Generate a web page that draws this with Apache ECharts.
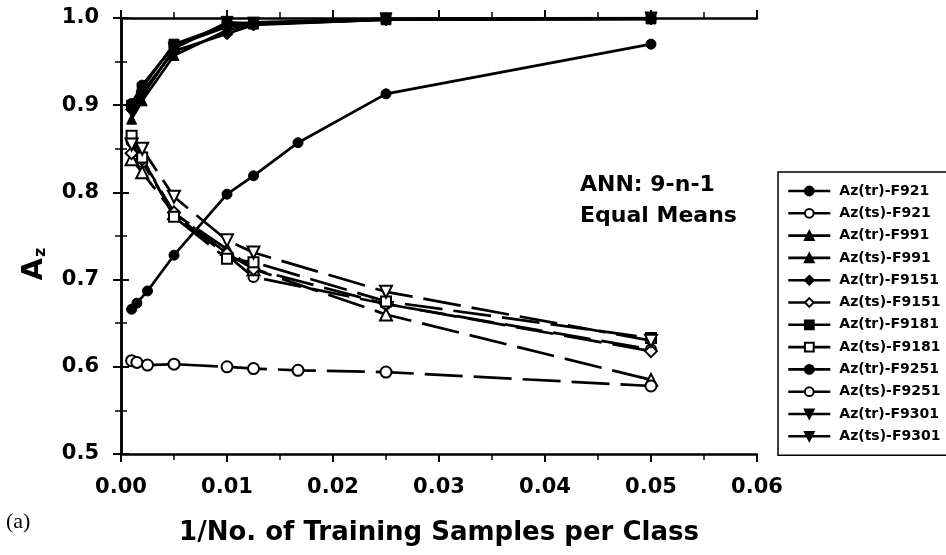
<!DOCTYPE html>
<html><head><meta charset="utf-8">
<script src="https://cdn.jsdelivr.net/npm/echarts@6/dist/echarts.min.js"></script>
<style>html,body{margin:0;padding:0;background:#fff}#c{width:946px;height:555px}</style>
</head><body><div id="c"></div>
<script>
// x values (1/No. of training samples per class)
const xMain  = [0.001, 0.002, 0.005, 0.01, 0.0125, 0.025, 0.05];
const xF9251 = [0.001, 0.0015, 0.0025, 0.005, 0.01, 0.0125, 0.0167, 0.025, 0.05];
// Az values
const trF921  = [0.902, 0.923, 0.968, 0.990, 0.993, 0.998, 0.999];
const tsF921  = [0.858, 0.835, 0.775, 0.728, 0.703, 0.672, 0.620];
const trF991  = [0.884, 0.905, 0.957, 0.986, 0.993, 0.998, 0.999];
const tsF991  = [0.838, 0.823, 0.776, 0.735, 0.712, 0.660, 0.585];
const trF9151 = [0.895, 0.915, 0.962, 0.982, 0.992, 0.998, 0.999];
const tsF9151 = [0.845, 0.838, 0.777, 0.730, 0.712, 0.672, 0.618];
const trF9181 = [0.900, 0.920, 0.970, 0.992, 0.995, 0.999, 1.000];
const tsF9181 = [0.865, 0.840, 0.772, 0.724, 0.720, 0.675, 0.633];
const trF9251 = [0.666, 0.673, 0.687, 0.728, 0.798, 0.819, 0.857, 0.913, 0.970];
const tsF9251 = [0.607, 0.605, 0.602, 0.603, 0.600, 0.598, 0.596, 0.594, 0.578];
const trF9301 = [0.893, 0.910, 0.965, 0.995, 0.994, 0.999, 1.000];
const tsF9301 = [0.855, 0.850, 0.795, 0.745, 0.731, 0.686, 0.630];
const seriesNames = ['Az(tr)-F921','Az(ts)-F921','Az(tr)-F991','Az(ts)-F991','Az(tr)-F9151','Az(ts)-F9151',
  'Az(tr)-F9181','Az(ts)-F9181','Az(tr)-F9251','Az(ts)-F9251','Az(tr)-F9301','Az(ts)-F9301'];

const FONT = 'DejaVu Sans';
const DOWN = 'path://M0,0 L10,0 L5,9 Z';
function pairs(xs, ys){ return xs.map((x,i)=>[x, ys[i]]); }
function mk(name, xs, ys, symbol, filled, dashed, size){
  return {
    name, type:'line', data: pairs(xs, ys), symbol, symbolSize: size || 10,
    xAxisIndex:0, yAxisIndex:0,
    lineStyle:{color:'#000', width:2.7, type: dashed ? [38,11] : 'solid'},
    itemStyle: filled ? {color:'#000', borderColor:'#000', borderWidth:1}
                      : {color:'#fff', borderColor:'#000', borderWidth:2},
    z: filled ? 3 : 4, animation:false
  };
}
const series = [
  mk(seriesNames[0], xMain, trF921, 'circle', true, false),
  mk(seriesNames[1], xMain, tsF921, 'circle', false, true),
  mk(seriesNames[2], xMain, trF991, 'triangle', true, false, 10),
  mk(seriesNames[3], xMain, tsF991, 'triangle', false, true, 12),
  mk(seriesNames[4], xMain, trF9151, 'diamond', true, false, 12),
  mk(seriesNames[5], xMain, tsF9151, 'diamond', false, true, 12),
  mk(seriesNames[6], xMain, trF9181, 'rect', true, false, 10),
  mk(seriesNames[7], xMain, tsF9181, 'rect', false, true, 10),
  mk(seriesNames[8], xF9251, trF9251, 'circle', true, false),
  mk(seriesNames[9], xF9251, tsF9251, 'circle', false, true, 11),
  mk(seriesNames[10], xMain, trF9301, DOWN, true, false, 12),
  mk(seriesNames[11], xMain, tsF9301, DOWN, false, true, 12)
];
const legendData = seriesNames.map((n,i)=>{
  if (i===3 || i===11) return {name:n, itemStyle:{color:'#000'}};
  return {name:n};
});

const axisLineStyle = {lineStyle:{color:'#000', width:2.5}};
const tickStyle = {show:true, inside:false, length:8, lineStyle:{color:'#000', width:2}};
const minorStyle = {show:true, splitNumber:2, length:6, lineStyle:{color:'#000', width:1.5}};
const chart = echarts.init(document.getElementById('c'), null, {renderer:'canvas'});
chart.setOption({
  backgroundColor:'#fff',
  animation:false,
  grid:{left:121, right:189, top:18, bottom:101},
  xAxis:[{
    type:'value', min:0, max:0.06, interval:0.01, position:'bottom',
    axisLine:axisLineStyle, axisTick:tickStyle, minorTick:minorStyle,
    splitLine:{show:false},
    axisLabel:{color:'#000', fontFamily:FONT, fontWeight:'bold', fontSize:21, margin:23,
      formatter:v=>v.toFixed(2)},
    name:'1/No. of Training Samples per Class', nameLocation:'middle', nameGap:66,
    nameTextStyle:{color:'#000', fontFamily:FONT, fontWeight:'bold', fontSize:26}
  },{
    type:'value', min:0, max:0.06, interval:0.01, position:'top',
    axisLine:axisLineStyle, axisTick:tickStyle, minorTick:minorStyle,
    splitLine:{show:false}, axisLabel:{show:false}
  }],
  yAxis:[{
    type:'value', min:0.5, max:1.0, interval:0.1, position:'left',
    axisLine:axisLineStyle, axisTick:tickStyle, minorTick:minorStyle,
    splitLine:{show:false},
    axisLabel:{color:'#000', fontFamily:FONT, fontWeight:'bold', fontSize:21, margin:22,
      formatter:v=>v.toFixed(1)}
  },{
    type:'value', min:0.5, max:1.0, interval:0.1, position:'right',
    axisLine:axisLineStyle, axisTick:tickStyle, minorTick:minorStyle,
    splitLine:{show:false}, axisLabel:{show:false}
  }],
  legend:{
    orient:'vertical', left:778, top:172,
    data:legendData,
    itemWidth:42, itemHeight:11, itemGap:6.3,
    padding:[11,9,11,9],
    borderColor:'#000', borderWidth:1.5,
    lineStyle:{type:'solid', width:2.6},
    textStyle:{color:'#000', fontFamily:FONT, fontWeight:'bold', fontSize:14, lineHeight:16, padding:[0,0,0,4]}
  },
  graphic:[
    {type:'text', left:580, top:170, style:{text:'ANN: 9-n-1\nEqual Means', fill:'#000',
      font:'bold 22px "DejaVu Sans"', lineHeight:31}},
    {type:'text', x:34, y:264, rotation:Math.PI/2, style:{
      text:'{a|A}{b|z}', align:'center', verticalAlign:'middle',
      rich:{a:{fontFamily:FONT, fontWeight:'bold', fontSize:29, fill:'#000'},
            b:{fontFamily:FONT, fontWeight:'bold', fontSize:16, fill:'#000', verticalAlign:'bottom', padding:[0,0,0,1]}}}},
    {type:'text', left:6, top:511, style:{text:'(a)', fill:'#000', font:'22px "Liberation Serif"'}}
  ],
  series
});
</script></body></html>
